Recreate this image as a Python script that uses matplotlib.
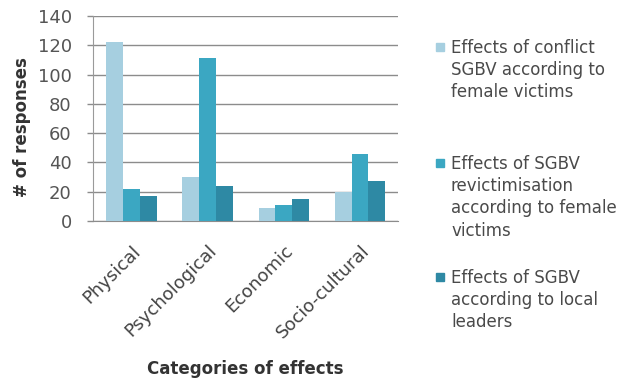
import matplotlib
matplotlib.use("Agg")
import matplotlib.pyplot as plt
from matplotlib.patches import Rectangle
import numpy as np

categories = ["Physical", "Psychological", "Economic", "Socio-cultural"]
series_names = [
    "Effects of conflict\nSGBV according to\nfemale victims",
    "Effects of SGBV\nrevictimisation\naccording to female\nvictims",
    "Effects of SGBV\naccording to local\nleaders",
]
victims_conflict = [122, 30, 9, 20]
victims_revictim = [22, 111, 11, 46]
local_leaders = [17, 24, 15, 27]
series_values = [victims_conflict, victims_revictim, local_leaders]
colors = ["#a6cfe0", "#3ba7c2", "#2e89a4"]

plt.rcParams["font.family"] = ["DejaVu Sans"]

W, H = 622, 381
fig = plt.figure(figsize=(W / 100, H / 100), dpi=100)
ax = fig.add_axes([0.15, 0.42, 0.49, 0.538])

x = np.arange(len(categories))
w = 0.22
for i, (vals, c) in enumerate(zip(series_values, colors)):
    ax.bar(x + (i - 1) * w, vals, width=w, color=c, zorder=3)

ax.set_xlim(-0.5, len(categories) - 0.5)
ax.set_ylim(0, 140)
ax.set_yticks(range(0, 141, 20))
ax.yaxis.grid(True, color="#8c8c8c", linewidth=1.0, zorder=0)
ax.set_axisbelow(True)
for s in ["top", "right"]:
    ax.spines[s].set_visible(False)
ax.spines["left"].set_color("#9a9a9a")
ax.spines["bottom"].set_color("#8c8c8c")
ax.tick_params(axis="y", length=4.5, width=1.0, color="#8c8c8c",
               labelsize=13, labelcolor="#555555", pad=11)
ax.tick_params(axis="x", length=0, labelsize=13, labelcolor="#444444", pad=15)
ax.set_xticks(x)
ax.set_xticklabels(categories, rotation=45, ha="right", rotation_mode="anchor")

ax.set_ylabel("# of responses", fontsize=12, fontweight="bold", color="#333333")
ax.yaxis.set_label_coords(-0.205, 0.46)
ax.set_xlabel("Categories of effects", fontsize=12, fontweight="bold", color="#333333", labelpad=13)

# Legend: square swatch aligned with the first text line of each entry
legend_tops = [39, 155, 269]
for name, c, ytop in zip(series_names, colors, legend_tops):
    fig.text(451 / W, 1 - ytop / H, name, fontsize=12, color="#4a4a4a",
             va="top", ha="left", linespacing=1.3)
    fig.patches.append(Rectangle((436 / W, 1 - (ytop + 12) / H), 8 / W, 8 / H,
                                 transform=fig.transFigure, color=c, figure=fig))

fig.savefig("out.png", dpi=100)
